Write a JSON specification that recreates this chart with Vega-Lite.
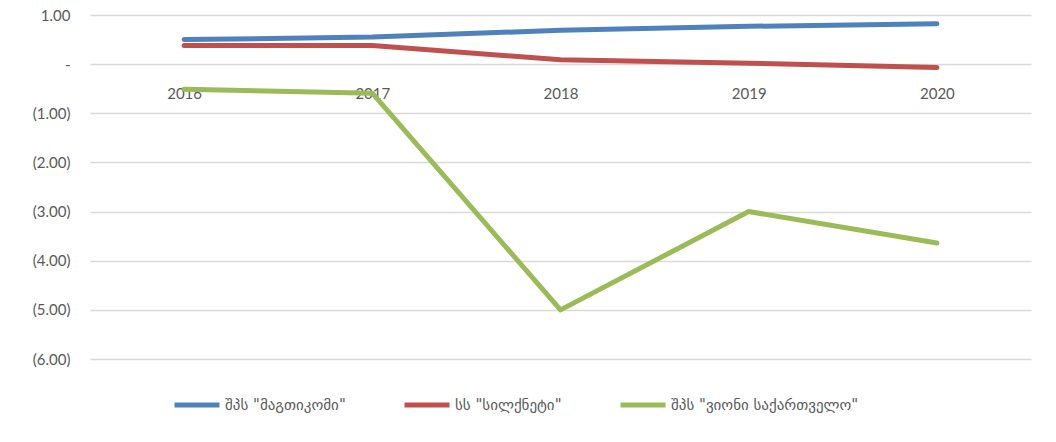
{
  "$schema": "https://vega.github.io/schema/vega-lite/v6.json",
  "autosize": "none",
  "width": 941,
  "height": 344,
  "padding": {"left": 90, "top": 15, "right": 25, "bottom": 83},
  "background": "white",
  "data": {
    "values": [
      {"company": "შპს \"მაგთიკომი\"", "year": "2016", "value": 0.50},
      {"company": "შპს \"მაგთიკომი\"", "year": "2017", "value": 0.55},
      {"company": "შპს \"მაგთიკომი\"", "year": "2018", "value": 0.69},
      {"company": "შპს \"მაგთიკომი\"", "year": "2019", "value": 0.77},
      {"company": "შპს \"მაგთიკომი\"", "year": "2020", "value": 0.82},
      {"company": "სს \"სილქნეტი\"", "year": "2016", "value": 0.38},
      {"company": "სს \"სილქნეტი\"", "year": "2017", "value": 0.38},
      {"company": "სს \"სილქნეტი\"", "year": "2018", "value": 0.09},
      {"company": "სს \"სილქნეტი\"", "year": "2019", "value": 0.02},
      {"company": "სს \"სილქნეტი\"", "year": "2020", "value": -0.07},
      {"company": "შპს \"ვიონი საქართველო\"", "year": "2016", "value": -0.51},
      {"company": "შპს \"ვიონი საქართველო\"", "year": "2017", "value": -0.59},
      {"company": "შპს \"ვიონი საქართველო\"", "year": "2018", "value": -5.00},
      {"company": "შპს \"ვიონი საქართველო\"", "year": "2019", "value": -3.00},
      {"company": "შპს \"ვიონი საქართველო\"", "year": "2020", "value": -3.64}
    ]
  },
  "mark": {"type": "line", "strokeWidth": 5, "strokeCap": "round", "strokeJoin": "round"},
  "encoding": {
    "x": {
      "field": "year",
      "type": "ordinal",
      "scale": {"type": "point", "padding": 0.5},
      "axis": {
        "title": null,
        "offset": -295,
        "domain": false,
        "ticks": false,
        "grid": false,
        "labelAngle": 0,
        "labelPadding": 22,
        "labelFont": "Lato",
        "labelFontSize": 15,
        "labelColor": "#595959"
      }
    },
    "y": {
      "field": "value",
      "type": "quantitative",
      "scale": {"domain": [-6, 1], "nice": false, "zero": false},
      "axis": {
        "title": null,
        "values": [1, 0, -1, -2, -3, -4, -5, -6],
        "labelExpr": "datum.value == 0 ? '-\u00a0\u00a0\u00a0' : (datum.value < 0 ? '(' + format(-datum.value, '.2f') + ')' : format(datum.value, '.2f') + '\u00a0')",
        "domain": false,
        "ticks": false,
        "grid": true,
        "gridColor": "#d9d9d9",
        "gridWidth": 1.5,
        "labelPadding": 20,
        "labelFont": "Lato",
        "labelFontSize": 15,
        "labelColor": "#595959"
      }
    },
    "color": {
      "field": "company",
      "type": "nominal",
      "scale": {
        "domain": ["შპს \"მაგთიკომი\"", "სს \"სილქნეტი\"", "შპს \"ვიონი საქართველო\""],
        "range": ["#4F81BD", "#C0504D", "#9BBB59"]
      },
      "legend": {
        "title": null,
        "orient": "none",
        "legendX": 82,
        "legendY": 365,
        "direction": "horizontal",
        "symbolType": "stroke",
        "symbolSize": 2025,
        "symbolStrokeWidth": 5,
        "labelFont": "DejaVu Sans",
        "labelFontSize": 15,
        "labelLimit": 0,
        "labelColor": "#595959",
        "labelOffset": 3,
        "columnPadding": 48
      }
    }
  },
  "config": {
    "view": {"stroke": null}
  }
}
